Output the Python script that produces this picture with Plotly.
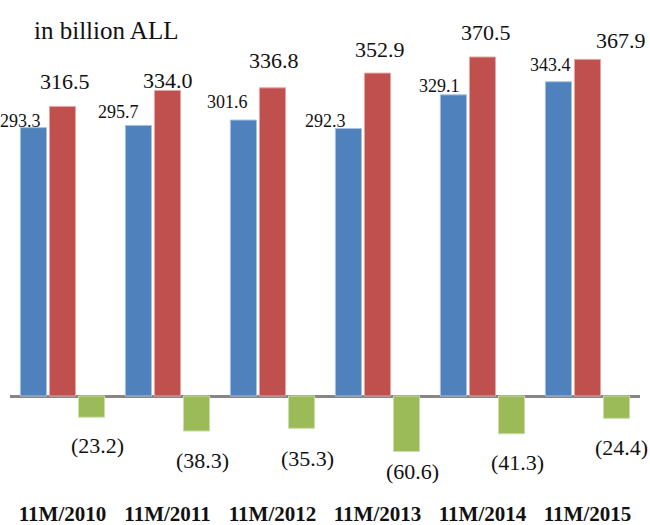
import plotly.graph_objects as go

categories = ["11M/2010", "11M/2011", "11M/2012", "11M/2013", "11M/2014", "11M/2015"]
revenues = [293.3, 295.7, 301.6, 292.3, 329.1, 343.4]
expenditures = [316.5, 334.0, 336.8, 352.9, 370.5, 367.9]
balance = [-23.2, -38.3, -35.3, -60.6, -41.3, -24.4]
unit_label = "in billion ALL"

# label offsets (pixels) relative to bar top/bottom centre
blue_dx = [-13, -20, -16, -23, -14, -8]
blue_dy = [7, 13, 18, 8, 9, 17]
red_dx = [2, 0, 1, 2, 3, 33]
red_dy = [25, 10, 27, 24, 24, 19]
green_dx = [6, 6, 6, 6, 6, 5]
green_dy = [-28, -29, -30, -20, -29, -29]

FONT = "Palatino Linotype, Book Antiqua, Liberation Serif, serif"
W, H = 650, 525
ML, MR, MT, MB = 10, 10, 30, 30
BARGAP, BARGROUPGAP = 0.17, 0.10

colors = ["#4F81BD", "#C0504D", "#9BBB59"]
edge = ["#A7C0DE", "#E0A8A6", "#CDDDAC"]
series = [revenues, expenditures, balance]

fig = go.Figure()
for vals, c, e in zip(series, colors, edge):
    fig.add_trace(go.Bar(x=categories, y=vals, marker=dict(color=c, line=dict(color=e, width=1)),
                         hoverinfo="skip"))

slot_px = (W - ML - MR) / len(categories) * (1 - BARGAP) / 3
annotations = []
for k, (vals, dxs, dys, size) in enumerate([
        (revenues, blue_dx, blue_dy, 18),
        (expenditures, red_dx, red_dy, 22),
        (balance, green_dx, green_dy, 22)]):
    for cat, v, dx, dy in zip(categories, vals, dxs, dys):
        txt = f"{v:.1f}" if v >= 0 else f"({abs(v):.1f})"
        annotations.append(dict(x=cat, y=v, xref="x", yref="y", text=txt, showarrow=False,
                                xshift=(k - 1) * slot_px + dx, yshift=dy,
                                xanchor="center", yanchor="middle",
                                font=dict(family=FONT, size=size, color="#111111")))

annotations.append(dict(x=(32 - ML) / (W - ML - MR), y=1.0, xref="paper", yref="paper",
                        text=unit_label, showarrow=False, xanchor="left", yanchor="middle",
                        font=dict(family=FONT, size=25, color="#111111")))

fig.update_layout(
    width=W, height=H,
    margin=dict(l=ML, r=MR, t=MT, b=MB, autoexpand=False),
    paper_bgcolor="white", plot_bgcolor="white",
    barmode="group", bargap=BARGAP, bargroupgap=BARGROUPGAP,
    showlegend=False,
    annotations=annotations,
    xaxis=dict(range=[-0.5, len(categories) - 0.5], showgrid=False, showline=False, ticks="",
               zeroline=False, automargin=False, ticklabelstandoff=4,
               tickfont=dict(family=FONT, size=21, color="#111111", weight="bold")),
    yaxis=dict(range=[-108.2, 400], showgrid=False, showticklabels=False, ticks="", automargin=False,
               zeroline=True, zerolinecolor="#868686", zerolinewidth=3, showline=False),
)

fig.write_html("out.html", config={"displayModeBar": False},
               post_script="document.body.style.margin='0';document.body.style.overflow='hidden';")
